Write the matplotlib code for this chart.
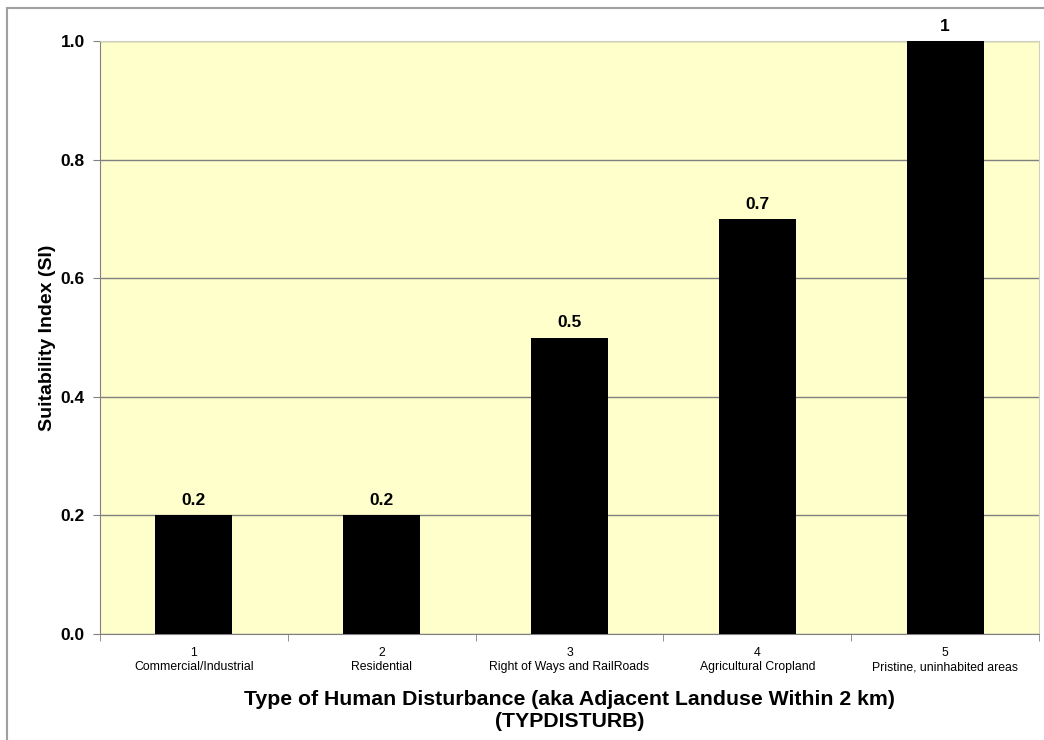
import matplotlib.pyplot as plt
from matplotlib.patches import Rectangle

plt.rcParams['font.family'] = ['Liberation Sans', 'DejaVu Sans']

codes = ['1', '2', '3', '4', '5']
names = ['Commercial/Industrial', 'Residential', 'Right of Ways and RailRoads',
         'Agricultural Cropland', 'Pristine, uninhabited areas']
si = [0.2, 0.2, 0.5, 0.7, 1.0]
bar_labels = ['0.2', '0.2', '0.5', '0.7', '1']

fig = plt.figure(figsize=(10.44, 7.4), dpi=100)
ax = fig.add_axes([100 / 1044, 1 - 634 / 740, 939 / 1044, 593 / 740])
ax.set_facecolor('#FFFFCC')

x = list(range(len(si)))
bars = ax.bar(x, si, width=0.41, color='black', zorder=3)
for b, t in zip(bars, bar_labels):
    ax.text(b.get_x() + b.get_width() / 2, b.get_height() + 0.012, t,
            ha='center', va='bottom', fontsize=12.5, fontweight='bold')

ax.set_xlim(-0.5, len(si) - 0.5)
ax.set_ylim(0, 1.0)
ax.set_yticks([0.0, 0.2, 0.4, 0.6, 0.8, 1.0])
ax.set_yticklabels(['0.0', '0.2', '0.4', '0.6', '0.8', '1.0'], fontsize=12.5, fontweight='bold')
ax.yaxis.grid(True, color='#808080', linewidth=1, zorder=0)

ax.set_xticks(x)
ax.set_xticklabels([c + '\n' + n for c, n in zip(codes, names)], fontsize=8.8, linespacing=1.3)
ax.tick_params(axis='x', length=0, pad=9)
ax.set_xticks([i - 0.5 for i in range(len(si) + 1)], minor=True)
ax.tick_params(axis='x', which='minor', length=5, color='#808080')
ax.tick_params(axis='y', length=5, color='#808080', pad=6)

for s in ['left', 'bottom']:
    ax.spines[s].set_color('#808080')
for s in ['top', 'right']:
    ax.spines[s].set_color('#D0D0C0')

ax.set_ylabel('Suitability Index (SI)', fontsize=14, fontweight='bold', labelpad=3)
ax.set_xlabel('Type of Human Disturbance (aka Adjacent Landuse Within 2 km)\n(TYPDISTURB)',
              fontsize=15.3, fontweight='bold', labelpad=12, linespacing=1.2)

fig.add_artist(Rectangle((7 / 1044, -0.1), 1.2, 1.1 - 8 / 740, transform=fig.transFigure,
                         fill=False, edgecolor='#A0A0A0', linewidth=1.5))

plt.savefig('out.png', dpi=100)
